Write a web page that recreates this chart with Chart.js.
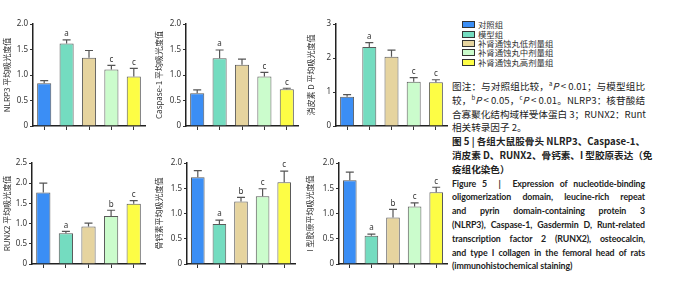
<!DOCTYPE html>
<html>
<head>
<meta charset="utf-8">
<script src="https://cdn.jsdelivr.net/npm/chart.js@4.4.0/dist/chart.umd.min.js"></script>
<style>
  body { margin: 0; width: 700px; height: 282px; background: #fff; position: relative; overflow: hidden; font-family: "Noto Sans CJK SC", sans-serif; }
  canvas { position: absolute; }
  .lrow { position: absolute; left: 462px; height: 10px; line-height: 10px; font-size: 8.4px; color: #333; white-space: nowrap; }
  .lrow .box { position: absolute; left: 0; top: 2px; width: 11px; height: 5px; border: 1px solid #333; }
  .lrow .txt { position: absolute; left: 16px; top: 0; }
  .caption { position: absolute; left: 452px; top: 80px; width: 193px; color: #222; }
  .caption div { height: 13.8px; line-height: 13.8px; white-space: nowrap; text-align: justify; text-align-last: justify; }
  .caption div.last { text-align-last: left; }
  .cn { font-size: 9.6px; }
  .cnb { font-size: 9.6px; font-weight: 700; }
  .en { font-family: Lato, sans-serif; font-size: 8.8px; font-weight: 700; letter-spacing: -0.1px; }
  sup { font-size: 6px; line-height: 0; }
</style>
</head>
<body>
<canvas id="c1" width="148" height="141" style="left:0;top:0"></canvas>
<canvas id="c2" width="148" height="141" style="left:152px;top:0"></canvas>
<canvas id="c3" width="146" height="141" style="left:304px;top:0"></canvas>
<canvas id="c4" width="148" height="141" style="left:0;top:141px"></canvas>
<canvas id="c5" width="146" height="141" style="left:152px;top:141px"></canvas>
<canvas id="c6" width="147" height="141" style="left:303px;top:141px"></canvas>

<div id="legend"></div>

<div class="caption">
  <div class="cn">图注：与对照组比较，<sup>a</sup><i>P</i> &lt; 0.01；与模型组比</div>
  <div class="cn">较，<sup>b</sup><i>P</i> &lt; 0.05，<sup>c</sup><i>P</i> &lt; 0.01。NLRP3：核苷酸结</div>
  <div class="cn">合寡聚化结构域样受体蛋白 3；RUNX2：Runt</div>
  <div class="cn last">相关转录因子 2。</div>
  <div class="cnb">图 5 | 各组大鼠股骨头 NLRP3、Caspase-1、</div>
  <div class="cnb">消皮素 D、RUNX2、骨钙素、I 型胶原表达（免</div>
  <div class="cnb last">疫组化染色）</div>
  <div class="en">Figure 5 &nbsp;|&nbsp; Expression of nucleotide-binding</div>
  <div class="en">oligomerization domain, leucine-rich repeat</div>
  <div class="en">and pyrin domain-containing protein 3</div>
  <div class="en">(NLRP3), Caspase-1, Gasdermin D, Runt-related</div>
  <div class="en">transcription factor 2 (RUNX2), osteocalcin,</div>
  <div class="en">and type I collagen in the femoral head of rats</div>
  <div class="en last">(immunohistochemical staining)</div>
</div>

<script>
const groups = ['对照组', '模型组', '补肾通蚀丸低剂量组', '补肾通蚀丸中剂量组', '补肾通蚀丸高剂量组'];
const barColors = ['#3b8ef5', '#74dcc0', '#e6d49f', '#cbfccc', '#fdfd45'];

// mean, error (upper half only) and significance letter per group
const nlrp3Mean = [0.84, 1.62, 1.34, 1.11, 0.97];
const nlrp3Err = [0.05, 0.07, 0.14, 0.08, 0.16];
const nlrp3Sig = ['', 'a', '', 'c', 'c'];

const casp1Mean = [0.64, 1.33, 1.20, 0.97, 0.72];
const casp1Err = [0.07, 0.16, 0.11, 0.08, 0.02];
const casp1Sig = ['', 'a', '', 'c', 'c'];

const gsdmdMean = [0.86, 2.32, 2.04, 1.30, 1.29];
const gsdmdErr = [0.06, 0.13, 0.19, 0.12, 0.07];
const gsdmdSig = ['', 'a', '', 'c', 'c'];

const runx2Mean = [1.77, 0.76, 0.93, 1.19, 1.49];
const runx2Err = [0.23, 0.05, 0.08, 0.14, 0.08];
const runx2Sig = ['', 'a', '', 'b', 'c'];

const ocnMean = [1.72, 0.79, 1.24, 1.34, 1.62];
const ocnErr = [0.13, 0.08, 0.08, 0.15, 0.22];
const ocnSig = ['', 'a', 'b', 'c', 'c'];

const col1Mean = [1.66, 0.56, 0.92, 1.14, 1.42];
const col1Err = [0.16, 0.03, 0.16, 0.07, 0.10];
const col1Sig = ['', 'a', 'b', 'c', 'c'];

// error bars + letters on top of the bars
const errorBars = {
    id: 'errorBars',
    afterDatasetsDraw(chart) {
        const ctx = chart.ctx;
        const y = chart.scales.y;
        const ds = chart.data.datasets[0];
        const meta = chart.getDatasetMeta(0);
        ctx.save();
        ctx.strokeStyle = '#555';
        ctx.lineWidth = 1.2;
        ctx.fillStyle = '#333';
        ctx.font = '8px "Noto Sans", sans-serif';
        ctx.textAlign = 'center';
        ctx.textBaseline = 'bottom';
        meta.data.forEach((bar, i) => {
            const top = y.getPixelForValue(ds.data[i] + ds.err[i]);
            ctx.beginPath();
            ctx.moveTo(bar.x, bar.y);
            ctx.lineTo(bar.x, top);
            ctx.moveTo(bar.x - 4, top);
            ctx.lineTo(bar.x + 4, top);
            ctx.stroke();
            if (ds.sig[i]) ctx.fillText(ds.sig[i], bar.x, top - 2);
        });
        ctx.restore();
    }
};

function makeChart(id, mean, err, sig, yMax, step, title, yW, xH, padTop, padRight) {
    new Chart(document.getElementById(id), {
        type: 'bar',
        data: {
            labels: groups,
            datasets: [{
                data: mean,
                err: err,
                sig: sig,
                backgroundColor: barColors,
                borderColor: '#5a5a5a',
                borderWidth: 1,
                barPercentage: 0.9,
                categoryPercentage: 0.7
            }]
        },
        options: {
            responsive: false,
            animation: false,
            devicePixelRatio: 1,
            layout: { padding: { top: padTop, right: padRight, left: 0, bottom: 0 } },
            plugins: { legend: { display: false }, tooltip: { enabled: false } },
            scales: {
                x: {
                    grid: { drawOnChartArea: false, offset: false, tickLength: 4, color: '#333' },
                    border: { color: '#222', width: 1.5 },
                    ticks: { display: false },
                    afterFit(s) { s.height = xH; }
                },
                y: {
                    min: 0,
                    max: yMax,
                    ticks: {
                        stepSize: step,
                        color: '#333',
                        padding: 2,
                        font: { size: 8, family: '"Noto Sans", sans-serif' },
                        callback: v => v === 0 ? '0' : (step >= 1 ? String(v) : v.toFixed(1))
                    },
                    grid: { drawOnChartArea: false, tickLength: 3, color: '#333' },
                    border: { color: '#222', width: 1.5 },
                    title: {
                        display: true,
                        text: title,
                        color: '#333',
                        font: { size: 8, family: '"Noto Sans CJK SC", sans-serif' },
                        padding: { top: 2, bottom: 0 }
                    },
                    afterFit(s) { s.width = yW; }
                }
            }
        },
        plugins: [errorBars]
    });
}

makeChart('c1', nlrp3Mean, nlrp3Err, nlrp3Sig, 2, 0.5, 'NLRP3 平均吸光度值', 33, 15, 24, 3);
makeChart('c2', casp1Mean, casp1Err, casp1Sig, 2, 0.5, 'Caspase-1 平均吸光度值', 34, 15, 24, 2);
makeChart('c3', gsdmdMean, gsdmdErr, gsdmdSig, 3, 1, '消皮素 D 平均吸光度值', 32, 15, 24, 3);
makeChart('c4', runx2Mean, runx2Err, runx2Sig, 2.5, 0.5, 'RUNX2 平均吸光度值', 32, 18, 22, 3);
makeChart('c5', ocnMean, ocnErr, ocnSig, 2, 0.5, '骨钙素平均吸光度值', 35, 18, 22, 3);
makeChart('c6', col1Mean, col1Err, col1Sig, 2, 0.5, 'I 型胶原平均吸光度值', 36, 18, 22, 3);

// legend rows, one per group
const legend = document.getElementById('legend');
groups.forEach((g, i) => {
    const row = document.createElement('div');
    row.className = 'lrow';
    row.style.top = (19.3 + i * 9.35) + 'px';
    row.innerHTML = '<span class="box" style="background:' + barColors[i] + '"></span><span class="txt">' + g + '</span>';
    legend.appendChild(row);
});
</script>
</body>
</html>
